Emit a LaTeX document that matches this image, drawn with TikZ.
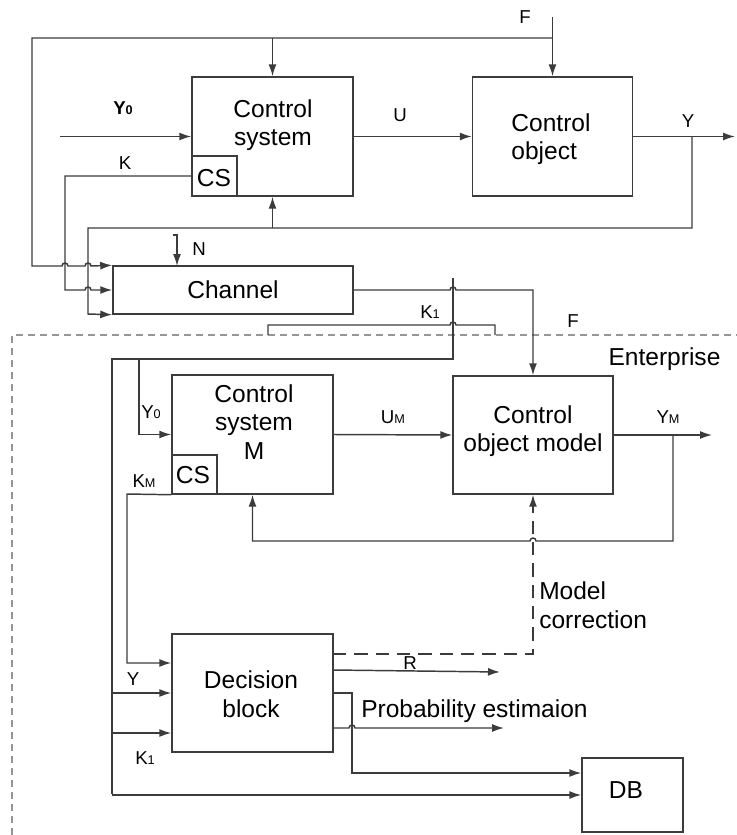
\documentclass[tikz,border=0pt]{standalone}
\usepackage{fontspec}
\setmainfont{Liberation Sans}
\usetikzlibrary{arrows.meta}
\definecolor{lc}{RGB}{60,60,60}
\definecolor{entc}{RGB}{150,150,150}
\newcommand{\sbs}[1]{{\fontsize{9.5}{10}\selectfont #1}}
\tikzset{
  ln/.style={draw=lc, line width=1.1pt},
  arr/.style={ln, -{Latex[length=9pt,width=6pt]}},
  dasharr/.style={arr, dash pattern=on 10pt off 6pt},
  entline/.style={draw=entc, line width=1pt, dash pattern=on 5.5pt off 3.5pt},
  box/.style={draw=lc, line width=1.1pt, inner sep=0pt},
  main/.style={font=\fontsize{18.4}{21.5}\selectfont, align=center, inner sep=0pt},
  lbl/.style={font=\fontsize{14}{16}\selectfont, inner sep=0pt},
}
\begin{document}
\begin{tikzpicture}[x=0.75pt,y=-0.75pt]
\useasboundingbox (0,0) rectangle (737,835);

% enterprise boundary
\draw[entline] (12,835) -- (12,335) -- (737,335);

% boxes
\node[box, minimum width=120.75pt, minimum height=89.25pt] (cs) at (272.5,136.5) {};
\node[box, minimum width=33.75pt, minimum height=30pt] (cscs) at (214.5,176) {};
\node[box, minimum width=120pt, minimum height=89.25pt] (co) at (552.5,136.5) {};
\node[box, minimum width=180pt, minimum height=36pt] (ch) at (233,290) {};
\node[box, minimum width=120.75pt, minimum height=89.25pt] (csm) at (252.5,434.5) {};
\node[box, minimum width=33.75pt, minimum height=29.25pt] (csmcs) at (194.5,474.5) {};
\node[box, minimum width=120pt, minimum height=88.5pt] (com) at (533,435) {};
\node[box, minimum width=120.75pt, minimum height=88.5pt] (dec) at (252.5,693) {};
\node[box, minimum width=75.75pt, minimum height=55.5pt] (dbx) at (632.5,795) {};

% box texts
\node[main] (cst) at (273,125) {Control\\system};
\node[main] (cscst) at (214,178) {CS};
\node[main, align=left] (cot) at (551,139) {Control\\object};
\node[main] (cht) at (233,290) {Channel};
\node[main] (csmt) at (254,422) {Control\\system\\M};
\node[main] (csmcst) at (193,475) {CS};
\node[main] (comt) at (533,431) {Control\\object model};
\node[main] (dect) at (251,694) {Decision\\block};
\node[main] (dbt) at (626,790) {DB};
\node[main] (ent) at (664.5,359) {Enterprise};
\node[main, align=left, anchor=west] (mct) at (539,605) {Model\\correction};
\node[main, anchor=west] (pet) at (361,711) {Probability estimaion};

% labels
\node[lbl] (ly0) at (123,108) {\bfseries Y\sbs{0}};
\node[lbl] (lk) at (125,163) {K};
\node[lbl] (lN) at (199,249) {N};
\node[lbl] (lu) at (400,115) {U};
\node[lbl] (lf) at (525,17) {F};
\node[lbl] (ly) at (688,121) {Y};
\node[lbl] (lk1) at (430,312) {K\sbs{1}};
\node[lbl] (lf2) at (573,321) {F};
\node[lbl] (ly0m) at (151,412) {Y\sbs{0}};
\node[lbl] (lkm) at (144,481) {K\sbs{M}};
\node[lbl] (lum) at (393,417) {U\sbs{M}};
\node[lbl] (lym) at (668,417) {Y\sbs{M}};
\node[lbl] (lr) at (410,663) {R};
\node[lbl] (lyb) at (133,679) {Y};
\node[lbl] (lk1b) at (145,758) {K\sbs{1}};

% coordinates
\coordinate (y0in) at (60,136.5);
\coordinate (yout) at (735,136.5);
\coordinate (ftop) at (552.5,17);
\coordinate (ymout) at (712,435);
\coordinate (rout) at (500,672);
\coordinate (peout) at (504,728);
\coordinate (yb) at (112,693);
\coordinate (k1b) at (112,733);
\coordinate (kmb) at (127,663);
\coordinate (dbup) at (352,773);

% top part
\draw[arr] (y0in) -- (cs.west);
\draw[arr] (cs.east) -- (co.west);
\draw[arr] (co.east) -- (yout);
\draw[arr] (ftop) -- (co.north);
\draw[arr] (552.5,38) -- (32,38) -- (32,266) -- (62,266)
  arc[start angle=180,end angle=0,radius=2.25pt] -- (85,266)
  arc[start angle=180,end angle=0,radius=2.25pt] -- (ch.north west);
\draw[arr] (272.5,38) -- (cs.north);
\draw[arr] (cscs.west) -- (65,176) -- (65,290) -- (85,290)
  arc[start angle=180,end angle=0,radius=2.25pt] -- (ch.west);
\draw[arr] (692,136.5) -- (692,228) -- (88,228) -- (88,314) -- (ch.south west);
\draw[arr] (272.5,228) -- (cs.south);
\draw[arr] (173,235) -- (177,235) -- (177,266);

% channel output and links to enterprise
\draw[arr] (ch.east) -- (450,290)
  arc[start angle=180,end angle=0,radius=2.25pt] -- (533,290) -- (com.north);
\draw[ln] (453,278) -- (453,359) -- (112,359) -- (112,794);
\draw[arr] (112,795) -- (dbx.west);
\draw[arr] (yb) -- (dec.west);
\draw[arr] (k1b) -- (k1b -| dec.west);
\draw[ln] (268,335) -- (268,325) -- (450,325)
  arc[start angle=180,end angle=0,radius=2.25pt] -- (495,325) -- (495,335);

% enterprise model part
\draw[arr] (139,359) -- (139,434.5) -- (csm.west);
\draw[arr] (csmcs.south west) -- (127,494) -- (kmb) -- (kmb -| dec.west);
\draw[arr] (csm.east) -- (com.west);
\draw[arr] (com.east) -- (ymout);
\draw[arr] (673,435) -- (673,541) -- (536,541)
  arc[start angle=0,end angle=180,radius=2.25pt] -- (252.5,541) -- (csm.south);
\draw[dasharr] (333,654) -- (533,654) -- (com.south);

% decision block outputs
\draw[arr] (333,670) -- (rout);
\draw[arr] (333,728) -- (349,728)
  arc[start angle=180,end angle=0,radius=2.25pt] -- (peout);
\draw[arr] (333,693) -- (352,693) -- (dbup) -- (dbup -| dbx.west);
\end{tikzpicture}
\end{document}
